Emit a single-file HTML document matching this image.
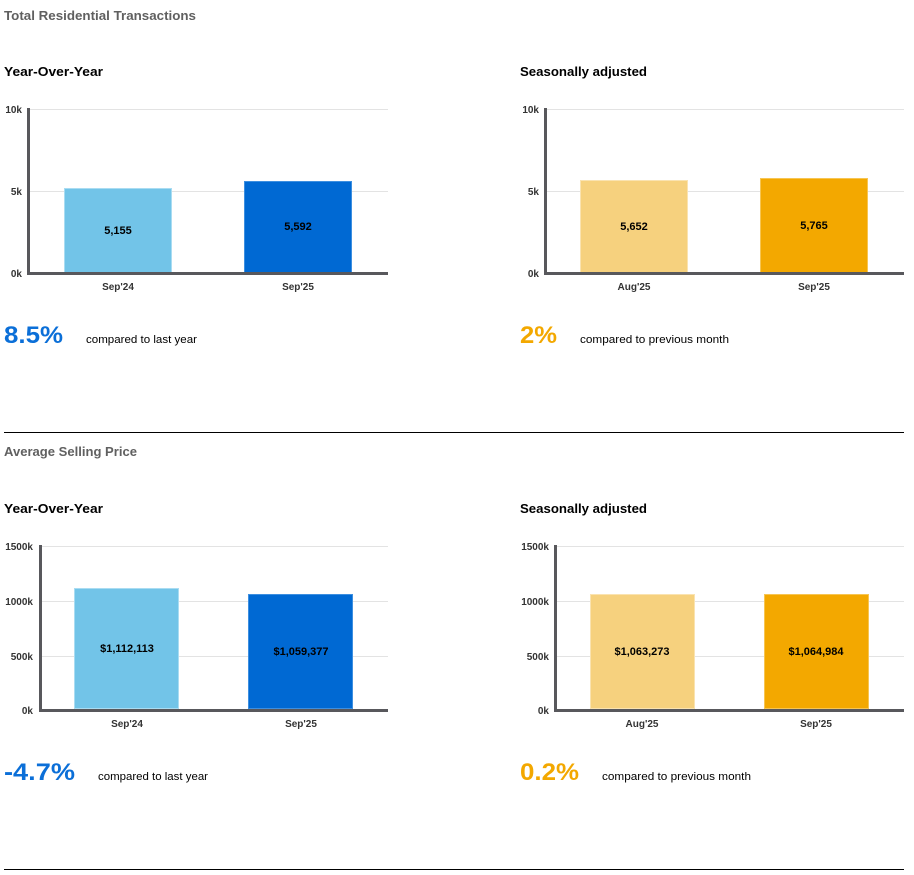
<!DOCTYPE html>
<html>
<head>
<meta charset="utf-8">
<style>
html,body{margin:0;padding:0;background:#fff;}
svg{display:block;}
text{font-family:"Liberation Sans",Arial,sans-serif;}
</style>
</head>
<body>
<svg width="914" height="875" viewBox="0 0 914 875" xmlns="http://www.w3.org/2000/svg">
  <!-- Section 1 title -->
  <text x="4" y="20" font-size="13" font-weight="bold" fill="#606060" textLength="192" lengthAdjust="spacingAndGlyphs">Total Residential Transactions</text>

  <text x="4" y="76" font-size="13" font-weight="bold" fill="#000" textLength="99" lengthAdjust="spacingAndGlyphs">Year-Over-Year</text>
  <text x="520" y="76" font-size="13" font-weight="bold" fill="#000" textLength="127" lengthAdjust="spacingAndGlyphs">Seasonally adjusted</text>

  <!-- Chart 1: top-left -->
  <g>
    <line x1="30" y1="109.5" x2="388" y2="109.5" stroke="#e3e3e3" stroke-width="1"/>
    <line x1="30" y1="191.5" x2="388" y2="191.5" stroke="#e3e3e3" stroke-width="1"/>
    <rect x="64.5" y="188.5" width="107" height="84" fill="#72c4e8" stroke="#a9dcf2" stroke-width="1"/>
    <rect x="244.5" y="181.5" width="107" height="91" fill="#0069d3" stroke="#3d8fe0" stroke-width="1"/>
    <rect x="27" y="108" width="3" height="167" fill="#58585c"/>
    <rect x="27" y="272" width="361" height="3" fill="#58585c"/>
    <g font-size="10" font-weight="bold" fill="#333" text-anchor="end">
      <text x="22" y="113">10k</text>
      <text x="22" y="195">5k</text>
      <text x="22" y="277">0k</text>
    </g>
    <g font-size="10" font-weight="bold" fill="#333" text-anchor="middle">
      <text x="118" y="290">Sep'24</text>
      <text x="298" y="290">Sep'25</text>
    </g>
    <g font-size="11" font-weight="bold" fill="#000" text-anchor="middle">
      <text x="118" y="234">5,155</text>
      <text x="298" y="230">5,592</text>
    </g>
  </g>

  <!-- Chart 2: top-right -->
  <g>
    <line x1="547" y1="109.5" x2="904" y2="109.5" stroke="#e3e3e3" stroke-width="1"/>
    <line x1="547" y1="191.5" x2="904" y2="191.5" stroke="#e3e3e3" stroke-width="1"/>
    <rect x="580.5" y="180.5" width="107" height="92" fill="#f6d17e" stroke="#fae3b0" stroke-width="1"/>
    <rect x="760.5" y="178.5" width="107" height="94" fill="#f3a800" stroke="#f7c552" stroke-width="1"/>
    <rect x="544" y="108" width="3" height="167" fill="#58585c"/>
    <rect x="544" y="272" width="360" height="3" fill="#58585c"/>
    <g font-size="10" font-weight="bold" fill="#333" text-anchor="end">
      <text x="539" y="113">10k</text>
      <text x="539" y="195">5k</text>
      <text x="539" y="277">0k</text>
    </g>
    <g font-size="10" font-weight="bold" fill="#333" text-anchor="middle">
      <text x="634" y="290">Aug'25</text>
      <text x="814" y="290">Sep'25</text>
    </g>
    <g font-size="11" font-weight="bold" fill="#000" text-anchor="middle">
      <text x="634" y="230">5,652</text>
      <text x="814" y="229">5,765</text>
    </g>
  </g>

  <!-- Percentages row 1 -->
  <text x="4" y="343" font-size="24" font-weight="bold" fill="#0b6fd8" textLength="59" lengthAdjust="spacingAndGlyphs">8.5%</text>
  <text x="86" y="343" font-size="11" fill="#000" textLength="111" lengthAdjust="spacingAndGlyphs">compared to last year</text>
  <text x="520" y="343" font-size="24" font-weight="bold" fill="#f3a800" textLength="37" lengthAdjust="spacingAndGlyphs">2%</text>
  <text x="580" y="343" font-size="11" fill="#000" textLength="149" lengthAdjust="spacingAndGlyphs">compared to previous month</text>

  <!-- separator -->
  <rect x="4" y="432" width="900" height="1" fill="#000"/>

  <!-- Section 2 title -->
  <text x="4" y="456" font-size="13" font-weight="bold" fill="#606060" textLength="133" lengthAdjust="spacingAndGlyphs">Average Selling Price</text>

  <text x="4" y="513" font-size="13" font-weight="bold" fill="#000" textLength="99" lengthAdjust="spacingAndGlyphs">Year-Over-Year</text>
  <text x="520" y="513" font-size="13" font-weight="bold" fill="#000" textLength="127" lengthAdjust="spacingAndGlyphs">Seasonally adjusted</text>

  <!-- Chart 3: bottom-left -->
  <g>
    <line x1="42" y1="546.5" x2="388" y2="546.5" stroke="#e3e3e3" stroke-width="1"/>
    <line x1="42" y1="601.5" x2="388" y2="601.5" stroke="#e3e3e3" stroke-width="1"/>
    <line x1="42" y1="656.5" x2="388" y2="656.5" stroke="#e3e3e3" stroke-width="1"/>
    <rect x="74.5" y="588.5" width="104" height="120" fill="#72c4e8" stroke="#a9dcf2" stroke-width="1"/>
    <rect x="248.5" y="594.5" width="104" height="114" fill="#0069d3" stroke="#3d8fe0" stroke-width="1"/>
    <rect x="39" y="545" width="3" height="167" fill="#58585c"/>
    <rect x="39" y="709" width="349" height="3" fill="#58585c"/>
    <g font-size="10" font-weight="bold" fill="#333" text-anchor="end">
      <text x="33" y="550">1500k</text>
      <text x="33" y="605">1000k</text>
      <text x="33" y="660">500k</text>
      <text x="33" y="714">0k</text>
    </g>
    <g font-size="10" font-weight="bold" fill="#333" text-anchor="middle">
      <text x="127" y="727">Sep'24</text>
      <text x="301" y="727">Sep'25</text>
    </g>
    <g font-size="11" font-weight="bold" fill="#000" text-anchor="middle">
      <text x="127" y="652">$1,112,113</text>
      <text x="301" y="655">$1,059,377</text>
    </g>
  </g>

  <!-- Chart 4: bottom-right -->
  <g>
    <line x1="557" y1="546.5" x2="904" y2="546.5" stroke="#e3e3e3" stroke-width="1"/>
    <line x1="557" y1="601.5" x2="904" y2="601.5" stroke="#e3e3e3" stroke-width="1"/>
    <line x1="557" y1="656.5" x2="904" y2="656.5" stroke="#e3e3e3" stroke-width="1"/>
    <rect x="590.5" y="594.5" width="104" height="114" fill="#f6d17e" stroke="#fae3b0" stroke-width="1"/>
    <rect x="764.5" y="594.5" width="104" height="114" fill="#f3a800" stroke="#f7c552" stroke-width="1"/>
    <rect x="554" y="545" width="3" height="167" fill="#58585c"/>
    <rect x="554" y="709" width="350" height="3" fill="#58585c"/>
    <g font-size="10" font-weight="bold" fill="#333" text-anchor="end">
      <text x="549" y="550">1500k</text>
      <text x="549" y="605">1000k</text>
      <text x="549" y="660">500k</text>
      <text x="549" y="714">0k</text>
    </g>
    <g font-size="10" font-weight="bold" fill="#333" text-anchor="middle">
      <text x="642" y="727">Aug'25</text>
      <text x="816" y="727">Sep'25</text>
    </g>
    <g font-size="11" font-weight="bold" fill="#000" text-anchor="middle">
      <text x="642" y="655">$1,063,273</text>
      <text x="816" y="655">$1,064,984</text>
    </g>
  </g>

  <!-- Percentages row 2 -->
  <text x="4" y="780" font-size="24" font-weight="bold" fill="#0b6fd8" textLength="71" lengthAdjust="spacingAndGlyphs">-4.7%</text>
  <text x="98" y="780" font-size="11" fill="#000" textLength="110" lengthAdjust="spacingAndGlyphs">compared to last year</text>
  <text x="520" y="780" font-size="24" font-weight="bold" fill="#f3a800" textLength="59" lengthAdjust="spacingAndGlyphs">0.2%</text>
  <text x="602" y="780" font-size="11" fill="#000" textLength="149" lengthAdjust="spacingAndGlyphs">compared to previous month</text>

  <!-- bottom separator -->
  <rect x="4" y="869" width="900" height="1" fill="#000"/>
</svg>
</body>
</html>
